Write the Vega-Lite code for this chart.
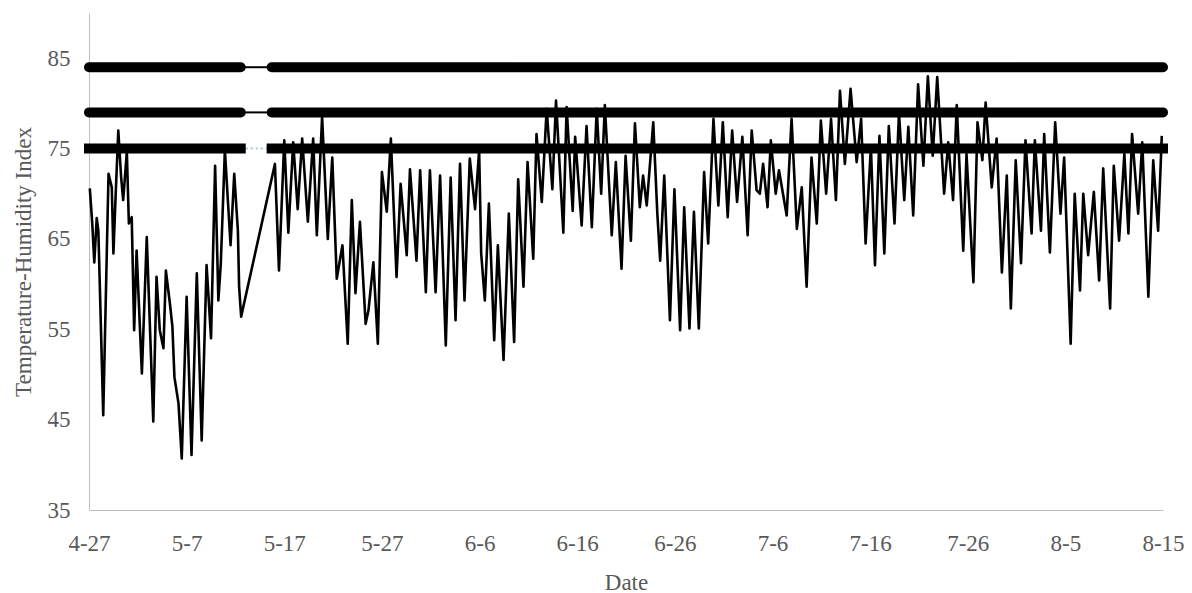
{
  "$schema": "https://vega.github.io/schema/vega-lite/v6.json",
  "width": 1074,
  "height": 497,
  "autosize": {"type": "none"},
  "padding": {"left": 89, "top": 13, "right": 29, "bottom": 83},
  "background": "white",
  "config": {
    "view": {"stroke": null},
    "font": "Liberation Serif",
    "style": {"guide-label": {"font": "Liberation Serif", "fontSize": 23, "fill": "#595959"}, "guide-title": {"font": "Liberation Serif", "fontSize": 23, "fill": "#595959", "fontWeight": "normal"}},
    "axis": {
      "domainColor": "#bfbfbf",
      "domainWidth": 1,
      "ticks": false,
      "tickSize": 0,
      "grid": false,
      "labelFont": "Liberation Serif",
      "labelFontSize": 23,
      "labelColor": "#595959",
      "titleFont": "Liberation Serif",
      "titleFontSize": 23,
      "titleFontWeight": "normal",
      "titleColor": "#595959"
    }
  },
  "datasets": {
    "thi": [
      {"date":"2019-04-27T02:00","thi":70.6},{"date":"2019-04-27T08:00","thi":66.7},{"date":"2019-04-27T13:00","thi":62.4},{"date":"2019-04-27T19:00","thi":67.3},{"date":"2019-04-27T23:00","thi":65.9},
      {"date":"2019-04-28T11:00","thi":45.5},{"date":"2019-04-29T00:00","thi":72.2},{"date":"2019-04-29T08:00","thi":70.7},{"date":"2019-04-29T12:00","thi":63.4},{"date":"2019-04-29T18:00","thi":70.4},
      {"date":"2019-04-30T00:00","thi":77.0},{"date":"2019-04-30T07:00","thi":71.8},{"date":"2019-04-30T12:00","thi":69.3},{"date":"2019-04-30T21:00","thi":74.6},
      {"date":"2019-05-01T02:00","thi":66.7},{"date":"2019-05-01T09:00","thi":67.4},{"date":"2019-05-01T15:00","thi":54.9},{"date":"2019-05-01T21:00","thi":63.7},
      {"date":"2019-05-02T10:00","thi":50.1},{"date":"2019-05-02T22:00","thi":65.2},{"date":"2019-05-03T14:00","thi":44.8},{"date":"2019-05-03T22:00","thi":60.8},
      {"date":"2019-05-04T06:00","thi":54.9},{"date":"2019-05-04T15:00","thi":52.9},{"date":"2019-05-04T21:00","thi":61.5},
      {"date":"2019-05-05T07:00","thi":57.8},{"date":"2019-05-05T13:00","thi":55.3},{"date":"2019-05-05T18:00","thi":49.7},
      {"date":"2019-05-06T04:00","thi":46.8},{"date":"2019-05-06T12:00","thi":40.7},{"date":"2019-05-07T00:00","thi":58.6},{"date":"2019-05-07T12:00","thi":41.1},
      {"date":"2019-05-08T01:00","thi":61.2},{"date":"2019-05-08T13:00","thi":42.7},{"date":"2019-05-09T01:00","thi":62.1},{"date":"2019-05-09T12:00","thi":54.0},{"date":"2019-05-09T22:00","thi":73.1},
      {"date":"2019-05-10T06:00","thi":58.2},{"date":"2019-05-10T12:00","thi":62.3},{"date":"2019-05-10T22:00","thi":74.8},
      {"date":"2019-05-11T12:00","thi":64.3},{"date":"2019-05-11T21:00","thi":72.2},{"date":"2019-05-12T06:00","thi":65.9},{"date":"2019-05-12T09:00","thi":59.7},{"date":"2019-05-12T14:00","thi":56.4},
      {"date":"2019-05-16T01:00","thi":73.3},{"date":"2019-05-16T11:00","thi":61.5},{"date":"2019-05-17T00:00","thi":75.9},{"date":"2019-05-17T10:00","thi":65.7},{"date":"2019-05-17T22:00","thi":75.7},
      {"date":"2019-05-18T09:00","thi":68.3},{"date":"2019-05-18T20:00","thi":76.1},{"date":"2019-05-19T10:00","thi":66.9},{"date":"2019-05-19T23:00","thi":76.1},
      {"date":"2019-05-20T08:00","thi":65.4},{"date":"2019-05-20T21:00","thi":78.5},{"date":"2019-05-21T11:00","thi":65.0},{"date":"2019-05-21T22:00","thi":74.0},
      {"date":"2019-05-22T09:00","thi":60.6},{"date":"2019-05-22T23:00","thi":64.3},{"date":"2019-05-23T12:00","thi":53.4},{"date":"2019-05-23T22:00","thi":69.3},
      {"date":"2019-05-24T07:00","thi":59.0},{"date":"2019-05-24T18:00","thi":66.9},{"date":"2019-05-25T08:00","thi":55.6},{"date":"2019-05-25T15:00","thi":57.1},
      {"date":"2019-05-26T03:00","thi":62.4},{"date":"2019-05-26T14:00","thi":53.4},{"date":"2019-05-27T00:00","thi":72.4},{"date":"2019-05-27T12:00","thi":68.0},{"date":"2019-05-27T22:00","thi":76.1},
      {"date":"2019-05-28T12:00","thi":60.8},{"date":"2019-05-28T22:00","thi":71.1},{"date":"2019-05-29T13:00","thi":63.2},{"date":"2019-05-29T21:00","thi":72.7},
      {"date":"2019-05-30T13:00","thi":62.6},{"date":"2019-05-30T22:00","thi":72.6},{"date":"2019-05-31T12:00","thi":59.1},{"date":"2019-05-31T22:00","thi":72.6},
      {"date":"2019-06-01T12:00","thi":59.1},{"date":"2019-06-01T23:00","thi":72.0},{"date":"2019-06-02T13:00","thi":53.2},{"date":"2019-06-03T01:00","thi":71.8},{"date":"2019-06-03T13:00","thi":56.0},
      {"date":"2019-06-04T00:00","thi":73.3},{"date":"2019-06-04T11:00","thi":58.2},{"date":"2019-06-05T00:00","thi":73.9},{"date":"2019-06-05T13:00","thi":68.3},{"date":"2019-06-05T23:00","thi":74.8},
      {"date":"2019-06-06T04:00","thi":63.4},{"date":"2019-06-06T13:00","thi":58.2},{"date":"2019-06-06T23:00","thi":68.9},{"date":"2019-06-07T12:00","thi":53.8},{"date":"2019-06-07T21:00","thi":64.3},
      {"date":"2019-06-08T11:00","thi":51.6},{"date":"2019-06-09T00:00","thi":67.8},{"date":"2019-06-09T13:00","thi":53.6},{"date":"2019-06-09T23:00","thi":71.6},
      {"date":"2019-06-10T12:00","thi":59.7},{"date":"2019-06-10T22:00","thi":73.5},{"date":"2019-06-11T12:00","thi":62.8},{"date":"2019-06-11T20:00","thi":76.6},
      {"date":"2019-06-12T09:00","thi":69.1},{"date":"2019-06-12T21:00","thi":79.4},{"date":"2019-06-13T11:00","thi":70.5},{"date":"2019-06-13T20:00","thi":80.3},
      {"date":"2019-06-14T14:00","thi":65.7},{"date":"2019-06-14T22:00","thi":79.6},{"date":"2019-06-15T13:00","thi":68.1},{"date":"2019-06-15T19:00","thi":76.3},
      {"date":"2019-06-16T11:00","thi":66.5},{"date":"2019-06-16T23:00","thi":77.5},{"date":"2019-06-17T12:00","thi":66.3},{"date":"2019-06-18T00:00","thi":79.4},
      {"date":"2019-06-18T11:00","thi":70.0},{"date":"2019-06-18T20:00","thi":79.8},{"date":"2019-06-19T13:00","thi":65.4},{"date":"2019-06-19T23:00","thi":73.5},
      {"date":"2019-06-20T13:00","thi":61.7},{"date":"2019-06-20T23:00","thi":74.2},{"date":"2019-06-21T12:00","thi":64.8},{"date":"2019-06-21T22:00","thi":77.8},
      {"date":"2019-06-22T10:00","thi":68.5},{"date":"2019-06-22T18:00","thi":72.0},{"date":"2019-06-23T03:00","thi":68.7},{"date":"2019-06-23T19:00","thi":77.9},
      {"date":"2019-06-24T05:00","thi":67.8},{"date":"2019-06-24T12:00","thi":62.6},{"date":"2019-06-24T22:00","thi":72.0},{"date":"2019-06-25T12:00","thi":56.0},{"date":"2019-06-25T23:00","thi":70.5},
      {"date":"2019-06-26T13:00","thi":54.9},{"date":"2019-06-26T23:00","thi":68.5},{"date":"2019-06-27T12:00","thi":55.1},{"date":"2019-06-27T23:00","thi":68.0},
      {"date":"2019-06-28T11:00","thi":55.1},{"date":"2019-06-29T00:00","thi":72.4},{"date":"2019-06-29T10:00","thi":64.5},{"date":"2019-06-29T23:00","thi":78.3},
      {"date":"2019-06-30T11:00","thi":68.7},{"date":"2019-06-30T22:00","thi":77.9},{"date":"2019-07-01T10:00","thi":67.4},{"date":"2019-07-01T21:00","thi":77.0},
      {"date":"2019-07-02T09:00","thi":69.1},{"date":"2019-07-02T22:00","thi":76.3},{"date":"2019-07-03T11:00","thi":65.4},{"date":"2019-07-03T21:00","thi":77.0},
      {"date":"2019-07-04T09:00","thi":70.4},{"date":"2019-07-04T17:00","thi":70.0},{"date":"2019-07-05T01:00","thi":73.3},{"date":"2019-07-05T12:00","thi":68.5},{"date":"2019-07-05T20:00","thi":75.9},
      {"date":"2019-07-06T08:00","thi":70.0},{"date":"2019-07-06T16:00","thi":72.6},{"date":"2019-07-07T11:00","thi":67.6},{"date":"2019-07-07T23:00","thi":78.3},
      {"date":"2019-07-08T12:00","thi":66.1},{"date":"2019-07-09T00:00","thi":70.7},{"date":"2019-07-09T12:00","thi":59.7},{"date":"2019-07-10T00:00","thi":74.0},
      {"date":"2019-07-10T13:00","thi":66.7},{"date":"2019-07-10T23:00","thi":78.1},{"date":"2019-07-11T12:00","thi":70.0},{"date":"2019-07-12T00:00","thi":78.3},
      {"date":"2019-07-12T12:00","thi":69.3},{"date":"2019-07-12T22:00","thi":81.4},{"date":"2019-07-13T10:00","thi":73.3},{"date":"2019-07-14T00:00","thi":81.6},
      {"date":"2019-07-14T15:00","thi":73.5},{"date":"2019-07-15T02:00","thi":78.3},{"date":"2019-07-15T13:00","thi":64.5},{"date":"2019-07-16T02:00","thi":75.2},
      {"date":"2019-07-16T12:00","thi":62.1},{"date":"2019-07-16T23:00","thi":76.4},{"date":"2019-07-17T11:00","thi":63.4},{"date":"2019-07-17T22:00","thi":77.5},
      {"date":"2019-07-18T12:00","thi":66.7},{"date":"2019-07-18T23:00","thi":79.0},{"date":"2019-07-19T12:00","thi":69.3},{"date":"2019-07-19T22:00","thi":77.4},
      {"date":"2019-07-20T10:00","thi":67.6},{"date":"2019-07-20T22:00","thi":82.1},{"date":"2019-07-21T11:00","thi":73.1},{"date":"2019-07-21T22:00","thi":83.0},
      {"date":"2019-07-22T10:00","thi":74.2},{"date":"2019-07-22T21:00","thi":82.9},{"date":"2019-07-23T14:00","thi":70.0},{"date":"2019-07-24T00:00","thi":75.7},
      {"date":"2019-07-24T12:00","thi":69.3},{"date":"2019-07-24T21:00","thi":79.8},{"date":"2019-07-25T13:00","thi":63.7},{"date":"2019-07-25T21:00","thi":74.4},
      {"date":"2019-07-26T14:00","thi":60.2},{"date":"2019-07-27T00:00","thi":77.9},{"date":"2019-07-27T12:00","thi":73.7},{"date":"2019-07-27T20:00","thi":80.1},
      {"date":"2019-07-28T11:00","thi":70.7},{"date":"2019-07-28T23:00","thi":76.1},{"date":"2019-07-29T12:00","thi":61.3},{"date":"2019-07-30T00:00","thi":72.0},
      {"date":"2019-07-30T10:00","thi":57.3},{"date":"2019-07-30T22:00","thi":73.7},{"date":"2019-07-31T11:00","thi":62.3},{"date":"2019-07-31T22:00","thi":75.9},
      {"date":"2019-08-01T13:00","thi":65.6},{"date":"2019-08-01T21:00","thi":75.9},{"date":"2019-08-02T12:00","thi":65.9},{"date":"2019-08-02T20:00","thi":76.6},
      {"date":"2019-08-03T10:00","thi":63.5},{"date":"2019-08-03T23:00","thi":77.9},{"date":"2019-08-04T12:00","thi":67.8},{"date":"2019-08-04T21:00","thi":74.0},
      {"date":"2019-08-05T13:00","thi":53.4},{"date":"2019-08-05T23:00","thi":70.0},{"date":"2019-08-06T12:00","thi":59.3},{"date":"2019-08-06T20:00","thi":70.0},
      {"date":"2019-08-07T08:00","thi":63.2},{"date":"2019-08-07T22:00","thi":70.2},{"date":"2019-08-08T11:00","thi":60.4},{"date":"2019-08-08T21:00","thi":72.8},
      {"date":"2019-08-09T14:00","thi":57.3},{"date":"2019-08-09T23:00","thi":73.1},{"date":"2019-08-10T12:00","thi":64.8},{"date":"2019-08-11T01:00","thi":74.4},
      {"date":"2019-08-11T11:00","thi":65.6},{"date":"2019-08-11T20:00","thi":76.6},{"date":"2019-08-12T11:00","thi":67.8},{"date":"2019-08-12T21:00","thi":75.7},
      {"date":"2019-08-13T12:00","thi":58.6},{"date":"2019-08-14T00:00","thi":73.7},{"date":"2019-08-14T12:00","thi":65.9},{"date":"2019-08-14T21:00","thi":76.4}
    ],
    "roundLimits": [
      {"date":"2019-04-27T00:00","thi":84,"seg":"84a"},{"date":"2019-05-12T13:00","thi":84,"seg":"84a"},
      {"date":"2019-05-15T17:00","thi":84,"seg":"84b"},{"date":"2019-08-15T00:00","thi":84,"seg":"84b"},
      {"date":"2019-04-27T00:00","thi":79,"seg":"79a"},{"date":"2019-05-12T13:00","thi":79,"seg":"79a"},
      {"date":"2019-05-15T17:00","thi":79,"seg":"79b"},{"date":"2019-08-15T00:00","thi":79,"seg":"79b"}
    ],
    "squareLimits": [
      {"date":"2019-04-27T00:00","thi":75,"seg":"75a"},{"date":"2019-05-12T13:00","thi":75,"seg":"75a"},
      {"date":"2019-05-15T17:00","thi":75,"seg":"75b"},{"date":"2019-08-15T00:00","thi":75,"seg":"75b"}
    ],
    "connectors": [
      {"date":"2019-05-12T13:00","thi":84,"seg":"84"},{"date":"2019-05-15T17:00","thi":84,"seg":"84"},
      {"date":"2019-05-12T13:00","thi":79,"seg":"79"},{"date":"2019-05-15T17:00","thi":79,"seg":"79"}
    ],
    "dotted": [
      {"date":"2019-05-12T13:00","thi":75,"seg":"75"},{"date":"2019-05-15T17:00","thi":75,"seg":"75"}
    ]
  },
  "encoding": {
    "x": {
      "field": "date",
      "type": "temporal",
      "title": "Date",
      "scale": {"type": "time", "domain": [{"year": 2019, "month": 4, "date": 27}, {"year": 2019, "month": 8, "date": 15}]},
      "axis": {
        "values": [
          {"year": 2019, "month": 4, "date": 27}, {"year": 2019, "month": 5, "date": 7}, {"year": 2019, "month": 5, "date": 17},
          {"year": 2019, "month": 5, "date": 27}, {"year": 2019, "month": 6, "date": 6}, {"year": 2019, "month": 6, "date": 16},
          {"year": 2019, "month": 6, "date": 26}, {"year": 2019, "month": 7, "date": 6}, {"year": 2019, "month": 7, "date": 16},
          {"year": 2019, "month": 7, "date": 26}, {"year": 2019, "month": 8, "date": 5}, {"year": 2019, "month": 8, "date": 15}
        ],
        "format": "%-m-%-d",
        "labelFont": "Liberation Serif",
        "labelFontSize": 23,
        "labelColor": "#595959",
        "labelOverlap": false,
        "labelFlush": false,
        "labelPadding": 22,
        "titlePadding": 16
      }
    },
    "y": {
      "field": "thi",
      "type": "quantitative",
      "title": "Temperature-Humidity Index",
      "scale": {"domain": [35, 90], "nice": false, "zero": false},
      "axis": {"values": [35, 45, 55, 65, 75, 85], "labelFont": "Liberation Serif", "labelFontSize": 23, "labelColor": "#595959", "labelPadding": 19, "titlePadding": 12}
    }
  },
  "layer": [
    {
      "data": {"name": "dotted"},
      "mark": {"type": "line", "color": "#9dc3e6", "strokeWidth": 2, "strokeDash": [2, 3], "clip": false},
      "encoding": {"detail": {"field": "seg"}}
    },
    {
      "data": {"name": "connectors"},
      "mark": {"type": "line", "color": "black", "strokeWidth": 2, "clip": false},
      "encoding": {"detail": {"field": "seg"}}
    },
    {
      "data": {"name": "roundLimits"},
      "mark": {"type": "line", "color": "black", "strokeWidth": 10, "strokeCap": "round", "clip": false},
      "encoding": {"detail": {"field": "seg"}}
    },
    {
      "data": {"name": "squareLimits"},
      "mark": {"type": "line", "color": "black", "strokeWidth": 10, "strokeCap": "square", "clip": false},
      "encoding": {"detail": {"field": "seg"}}
    },
    {
      "data": {"name": "thi"},
      "mark": {"type": "line", "color": "black", "strokeWidth": 2.6, "strokeJoin": "round"},
      "encoding": {}
    }
  ]
}
